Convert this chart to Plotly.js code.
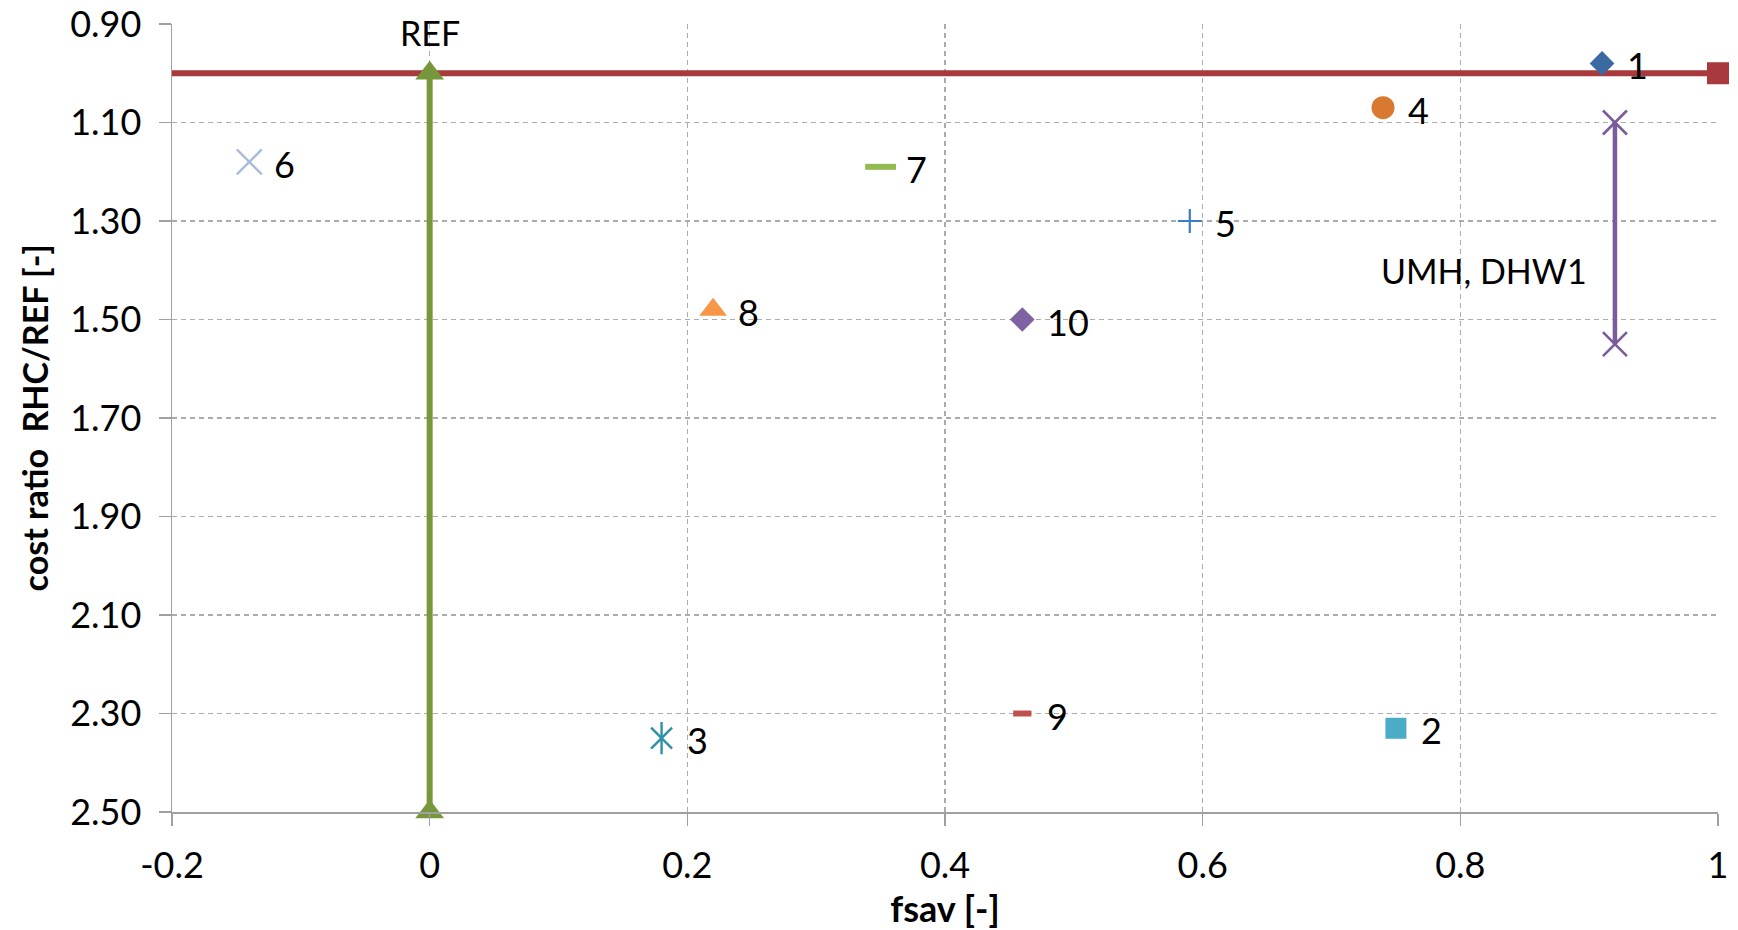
<!DOCTYPE html>
<html>
<head>
<meta charset="utf-8">
<script src="https://cdn.plot.ly/plotly-3.0.1.min.js"></script>
<style>html,body{margin:0;padding:0;background:#fff;}#chart{width:1738px;height:930px;}</style>
</head>
<body>
<div id="chart"></div>
<script>
// ---- data ----
const pointLabels = ['1', '2', '3', '4', '5', '6', '7', '8', '9', '10'];
const fsav = [0.91, 0.75, 0.18, 0.74, 0.59, -0.14, 0.35, 0.22, 0.46, 0.46];
const costRatio = [0.98, 2.33, 2.35, 1.07, 1.30, 1.18, 1.19, 1.48, 2.30, 1.50];

const refLineX = [-0.2, 1];
const refLineY = [1.0, 1.0];
const refArrowX = [0, 0];
const refArrowY = [2.5, 1.0];
const umhX = [0.92, 0.92];
const umhY = [1.10, 1.55];

const noteTexts = ['REF', 'UMH, DHW1'];
const noteX = [0, 0.818];
const noteY = [0.918, 1.40];

const yTickVals = [0.9, 1.1, 1.3, 1.5, 1.7, 1.9, 2.1, 2.3, 2.5];
const xTickVals = [-0.2, 0, 0.2, 0.4, 0.6, 0.8, 1];
const xTickText = ['-0.2', '0', '0.2', '0.4', '0.6', '0.8', '1'];
const xTitle = 'fsav [-]';
const yTitle = 'cost ratio\u00a0\u00a0RHC/REF [-]';

// ---- styles ----
const FONT = 'Lato, "Open Sans", sans-serif';
const pointStyles = [
  {symbol: 'diamond', color: '#3b6aa3', size: 19},
  {symbol: 'square', color: '#4aacc6', size: 21},
  {symbol: 'x-thin-open', color: '#2f8fa9', size: 21, lw: 2.4, extra: 'line-ns-open'},
  {symbol: 'circle', color: '#d9782f', size: 23},
  {symbol: 'cross-thin-open', color: '#3d7cc9', size: 17, lw: 2.2},
  {symbol: 'x-thin-open', color: '#a7bbdb', size: 25, lw: 2.4},
  {symbol: 'line-ew-open', color: '#93bb50', size: 22, lw: 6},
  {symbol: 'triangle-up', color: '#f79646', size: 24},
  {symbol: 'line-ew-open', color: '#c0504d', size: 13, lw: 6},
  {symbol: 'diamond', color: '#7f62a1', size: 19}
];

const traces = [];
// REF horizontal line
traces.push({
  x: refLineX, y: refLineY, type: 'scatter', mode: 'lines',
  line: {color: '#a8393c', width: 6},
  cliponaxis: false, hoverinfo: 'skip'
});
traces.push({
  x: [refLineX[1]], y: [refLineY[1]], type: 'scatter', mode: 'markers',
  marker: {symbol: 'square', size: 22, color: '#a8393c', opacity: 1, line: {width: 0}},
  cliponaxis: false, hoverinfo: 'skip'
});
// REF vertical arrow
traces.push({
  x: refArrowX, y: refArrowY, type: 'scatter', mode: 'lines+markers',
  line: {color: '#76973b', width: 6},
  marker: {symbol: 'triangle-up', size: 25, color: '#76973b', opacity: 1, line: {width: 0}},
  cliponaxis: false, hoverinfo: 'skip'
});
// UMH, DHW1 range
traces.push({
  x: umhX, y: umhY, type: 'scatter', mode: 'lines+markers',
  line: {color: '#7a5c9a', width: 4.5},
  marker: {symbol: 'x-thin-open', size: 24, color: '#7a5c9a', opacity: 1, line: {color: '#7a5c9a', width: 2.6}},
  cliponaxis: false, hoverinfo: 'skip'
});
// individual points
pointLabels.forEach((lab, i) => {
  const s = pointStyles[i];
  const open = s.symbol.indexOf('open') >= 0;
  traces.push({
    x: [fsav[i]], y: [costRatio[i]], type: 'scatter', mode: 'markers',
    marker: open ? {symbol: s.symbol, size: s.size, color: s.color, opacity: 1, line: {color: s.color, width: s.lw}}
                 : {symbol: s.symbol, size: s.size, color: s.color, opacity: 1, line: {width: 0}},
    cliponaxis: false, hoverinfo: 'skip'
  });
  if (s.extra) {
    traces.push({
      x: [fsav[i]], y: [costRatio[i]], type: 'scatter', mode: 'markers',
      marker: {symbol: s.extra, size: s.size + 2, color: s.color, opacity: 1, line: {color: s.color, width: s.lw}},
      cliponaxis: false, hoverinfo: 'skip'
    });
  }
});

const annotations = pointLabels.map((lab, i) => ({
  x: fsav[i], y: costRatio[i], xref: 'x', yref: 'y', text: lab,
  showarrow: false, xanchor: 'left', yanchor: 'middle', xshift: 23, yshift: -2,
  font: {family: FONT, size: 36, color: '#000'}
}));
noteTexts.forEach((t, i) => {
  annotations.push({
    x: noteX[i], y: noteY[i], xref: 'x', yref: 'y', text: t,
    showarrow: false, xanchor: 'center', yanchor: 'middle',
    font: {family: FONT, size: 34, color: '#000'}
  });
});
// y-axis title as annotation for exact placement
annotations.push({
  x: -0.089, y: 0.5, xref: 'paper', yref: 'paper', text: '<b>' + yTitle + '</b>',
  textangle: -90, showarrow: false, xanchor: 'center', yanchor: 'middle',
  font: {family: FONT, size: 34, color: '#000'}
});

const GRID = {showgrid: true, gridcolor: '#acacac', gridwidth: 1.2, griddash: '5px,4px'};

const layout = {
  width: 1738, height: 930,
  margin: {l: 172, r: 20, t: 24, b: 118},
  paper_bgcolor: '#fff', plot_bgcolor: '#fff',
  showlegend: false,
  font: {family: FONT, color: '#000'},
  xaxis: Object.assign({
    range: [-0.2, 1], tickvals: xTickVals, ticktext: xTickText,
    zeroline: false, showline: true, linecolor: '#a0a0a0', linewidth: 1.5,
    ticks: 'outside', ticklen: 12, tickcolor: '#a0a0a0', tickwidth: 1.5,
    ticklabelstandoff: 9,
    tickfont: {family: FONT, size: 36, color: '#000'},
    automargin: false,
    title: {text: '<b>' + xTitle + '</b>', font: {family: FONT, size: 36, color: '#000'}, standoff: 12}
  }, GRID),
  yaxis: Object.assign({
    range: [2.5, 0.89999], tickvals: yTickVals, tickformat: '.2f',
    zeroline: false, showline: true, linecolor: '#a0a0a0', linewidth: 1.5,
    ticks: 'outside', ticklen: 12, tickcolor: '#a0a0a0', tickwidth: 1.5,
    ticklabelstandoff: 10,
    tickfont: {family: FONT, size: 36, color: '#000'},
    automargin: false
  }, GRID),
  annotations: annotations
};

Plotly.newPlot('chart', traces, layout, {staticPlot: true, displayModeBar: false});
</script>
</body>
</html>
